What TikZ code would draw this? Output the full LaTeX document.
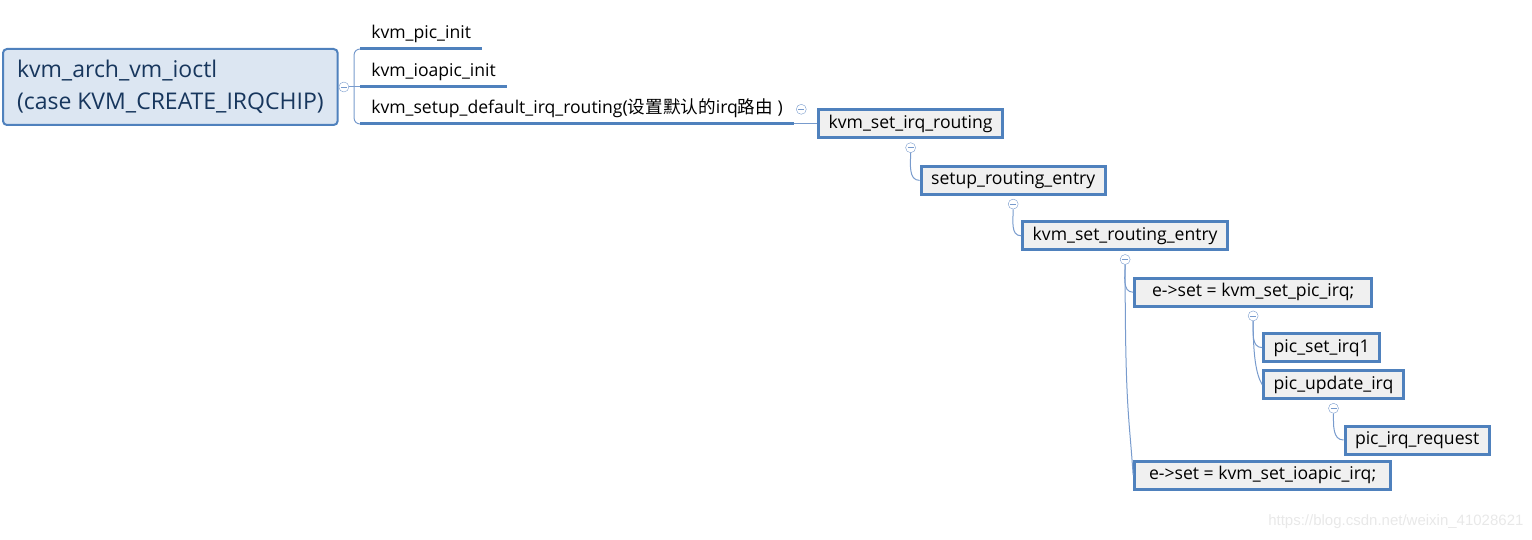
\documentclass[tikz,border=0pt]{standalone}
\usepackage{fontspec}
\setmainfont{Open Sans}
\newfontfamily\cjk{Noto Sans CJK SC}
\newfontfamily\wmfont{Liberation Sans}
\usetikzlibrary{positioning}
\definecolor{mapblue}{RGB}{79,129,189}
\definecolor{linkblue}{RGB}{120,155,205}
\definecolor{rootfill}{RGB}{220,230,242}
\definecolor{boxfill}{RGB}{240,240,240}
\definecolor{rootink}{RGB}{23,54,93}
\tikzset{
    rootbox/.style={rectangle, draw=mapblue, line width=2pt, rounded corners=4pt, fill=rootfill, text=rootink, align=left, font=\fontsize{23}{32}\selectfont, inner xsep=14pt, minimum height=76pt},
    topic/.style={inner xsep=11pt, inner ysep=6pt, text height=13pt, text depth=4pt, font=\fontsize{17.6}{20}\selectfont},
    fnbox/.style={rectangle, draw=mapblue, line width=3pt, fill=boxfill, font=\fontsize{17.6}{20}\selectfont, inner xsep=10pt, text height=13pt, text depth=4pt, minimum height=28pt},
    fold/.style={circle, draw=linkblue, fill=white, thin, minimum size=10pt, inner sep=0pt, path picture={\draw[linkblue] ([xshift=-3pt]path picture bounding box.center) -- ([xshift=3pt]path picture bounding box.center);}},
    uline/.style={mapblue, line width=3pt},
    branch/.style={linkblue, line width=1pt},
    wmark/.style={text=black!9, font=\wmfont\fontsize{15}{18}\selectfont}
}
\begin{document}
\begin{tikzpicture}[x=1pt, y=1pt]
\useasboundingbox (0,0) rectangle (1532,-540);

% root and its first-level topics
\node[rootbox, anchor=west] (ioctl) at (2,-87) {kvm\_arch\_vm\_ioctl\\(case KVM\_CREATE\_IRQCHIP)};
\node[fold, right=0pt of ioctl] (ioctlfold) {};

\node[topic, right=11pt of ioctlfold.east, anchor=south west] (ioapicinit) {kvm\_ioapic\_init};
\node[topic, anchor=south west] (picinit) at ([yshift=38pt]ioapicinit.south west) {kvm\_pic\_init};
\node[topic, anchor=south west] (defroute) at ([yshift=-37pt]ioapicinit.south west) {kvm\_setup\_default\_irq\_routing({\cjk 设置默认的}irq{\cjk 路由} )};
\node[fold, right=2pt of defroute.east] (defroutefold) {};

% call chain
\node[fnbox, right=23pt of defroute.south east] (setirq) {kvm\_set\_irq\_routing};
\node[fold, below=3pt of setirq] (setirqfold) {};
\node[fnbox, below right=12pt and 9pt of setirqfold.south] (setup) {setup\_routing\_entry};
\node[fold, below=3pt of setup] (setupfold) {};
\node[fnbox, below right=11pt and 8pt of setupfold.south] (setentry) {kvm\_set\_routing\_entry};
\node[fold, below=3pt of setentry] (entryfold) {};
\node[fnbox, minimum width=237pt, below right=12pt and 8pt of entryfold.south] (picirq) {e->set = kvm\_set\_pic\_irq;};
\node[fold, below=3pt of picirq] (picirqfold) {};
\node[fnbox, below right=11pt and 9pt of picirqfold.south] (picset) {pic\_set\_irq1};
\node[fnbox, below right=48pt and 9pt of picirqfold.south] (picupdate) {pic\_update\_irq};
\node[fold, below=3pt of picupdate] (updatefold) {};
\node[fnbox, below right=11pt and 10pt of updatefold.south] (picrequest) {pic\_irq\_request};
\node[fnbox, minimum width=256pt, below right=195pt and 8pt of entryfold.south] (ioapicirq) {e->set = kvm\_set\_ioapic\_irq;};

% connectors
\draw[branch, rounded corners=6pt] (picinit.south west) -| ([xshift=5pt]ioctlfold.east) |- (defroute.south west);
\draw[branch] (ioctlfold) -- (ioapicinit.south west);
\foreach \t in {picinit, ioapicinit, defroute}
    \draw[uline] (\t.south west) -- (\t.south east);
\draw[branch] (defroute.south east) -- (setirq);
\draw[branch] (setirqfold) to[out=-90, in=180] (setup.west);
\draw[branch] (setupfold) to[out=-90, in=180] (setentry.west);
\draw[branch] (entryfold) to[out=-90, in=180] (picirq.west);
\draw[branch] (entryfold) .. controls +(0,-150) and +(-4,60) .. (ioapicirq.west);
\draw[branch] (picirqfold) to[out=-90, in=180] (picset.west);
\draw[branch] (picirqfold) .. controls +(0,-40) and +(-6,10) .. (picupdate.west);
\draw[branch] (updatefold) to[out=-90, in=180] (picrequest.west);

\node[wmark, anchor=east] (wm) at (1527,-522) {https://blog.csdn.net/weixin\_41028621};
\end{tikzpicture}
\end{document}
